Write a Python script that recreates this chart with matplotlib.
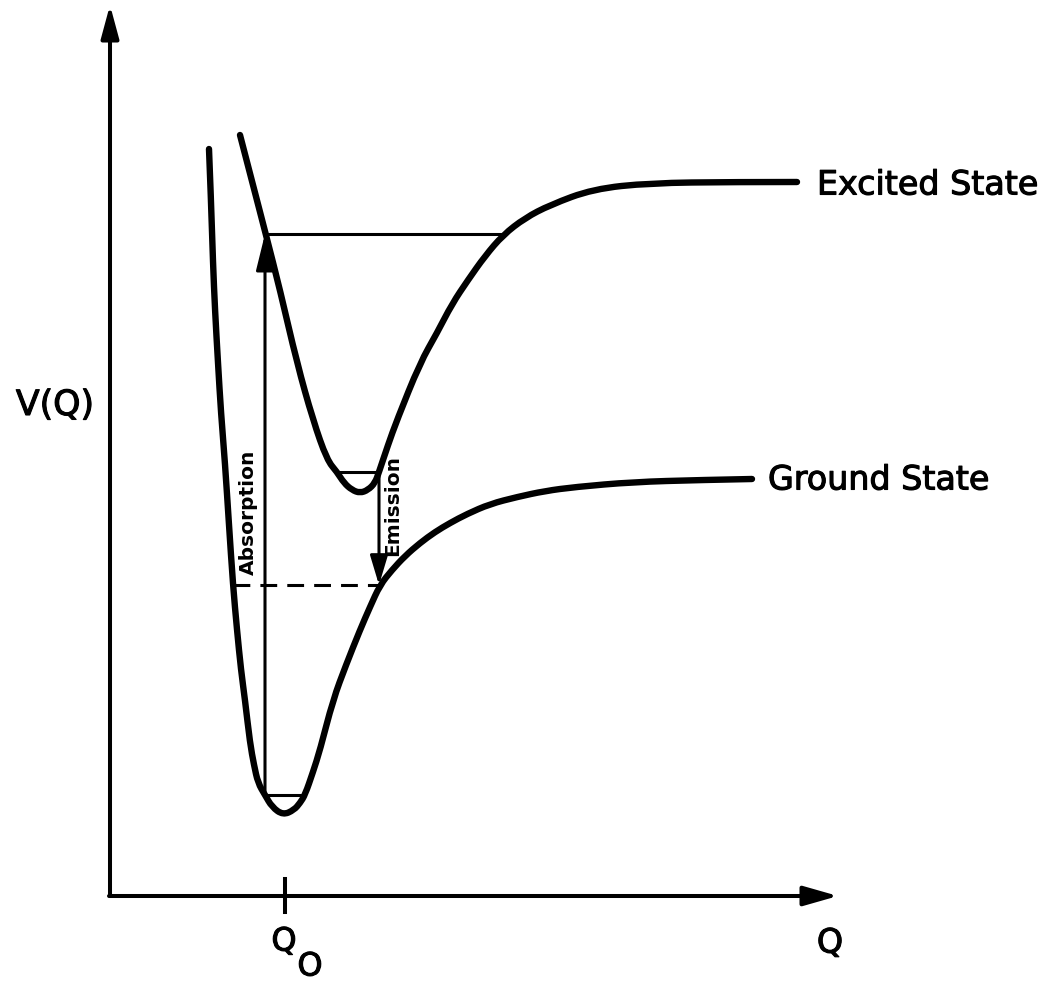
import matplotlib
matplotlib.use("Agg")
import matplotlib.pyplot as plt
from matplotlib.path import Path
from matplotlib.patches import PathPatch
import matplotlib.patheffects as pe

# ---------------------------------------------------------
# Data (Q = configuration coordinate, V = potential energy)
# ---------------------------------------------------------
ground_q = [99, 101, 103, 105, 108, 111, 115, 119, 123, 127, 131, 135, 140, 144,
            148, 155, 162, 173, 184, 190, 195, 203, 210, 223, 236, 250, 260, 270,
            282, 295, 310, 325, 340, 357, 380, 407, 435, 465, 523, 590, 642]
ground_v = [747, 696, 633, 586, 533, 483, 433, 371, 311, 266, 226, 196, 153, 131,
            113, 101, 89, 81, 86, 93, 101, 124, 146, 196, 231, 266, 289, 311,
            326, 340, 353, 364, 373, 382, 392, 399, 405, 409, 414, 416, 417]

excited_q = [130, 143, 156, 170, 187, 203, 217, 227, 234, 242, 250, 258, 265, 269,
             278, 287, 310, 327, 342, 358, 375, 393, 415, 440, 483, 540, 623, 687]
excited_v = [761, 711, 661, 606, 533, 476, 436, 424, 413, 406, 403, 406, 413, 424,
             451, 476, 533, 563, 592, 616, 640, 661, 678, 691, 707, 713, 714, 714]

q_zero = 175            # equilibrium position Q0
absorb_q = 155          # vertical absorption transition
absorb_v = (101, 662)   # from ground level up to excited curve
emit_q = 269            # vertical emission transition
emit_v = (424, 311)     # from excited level down to ground curve
ground_level = (101, 155, 195)    # v, q_left, q_right
excited_level = (424, 227, 269)
upper_line = (662, 155, 393)
dashed_line = (311, 123, 270)
axis_q_end = 728
axis_v_end = 891


def smooth_path(qs, vs):
    # quadratic bezier through the read points (points act as control points)
    pts = list(zip(qs, vs))
    verts = [pts[0]]
    codes = [Path.MOVETO]
    for i in range(1, len(pts) - 1):
        mid = ((pts[i][0] + pts[i + 1][0]) / 2, (pts[i][1] + pts[i + 1][1]) / 2)
        if i == len(pts) - 2:
            mid = pts[-1]
        verts += [pts[i], mid]
        codes += [Path.CURVE3, Path.CURVE3]
    return Path(verts, codes)


# ---------------------------------------------------------
# Figure
# ---------------------------------------------------------
fig = plt.figure(figsize=(10.63, 9.83), dpi=100)
ax = fig.add_axes([0, 0, 1, 1])
ax.set_xlim(-110, 953)
ax.set_ylim(-87, 896)
ax.axis("off")

# axes with arrows
ax.annotate("", xy=(0, axis_v_end), xytext=(0, 0),
            arrowprops=dict(arrowstyle="-|>,head_length=1.0,head_width=0.27",
                            mutation_scale=20, lw=2.9, color="black",
                            shrinkA=0, shrinkB=0))
ax.annotate("", xy=(axis_q_end, 0), xytext=(-1, 0),
            arrowprops=dict(arrowstyle="-|>,head_length=1.05,head_width=0.3",
                            mutation_scale=20, lw=2.9, color="black",
                            shrinkA=0, shrinkB=0))
ax.plot([q_zero, q_zero], [-16, 17], color="black", lw=2.9)

# potential curves
for qs, vs in ((ground_q, ground_v), (excited_q, excited_v)):
    ax.add_patch(PathPatch(smooth_path(qs, vs), facecolor="none",
                           edgecolor="black", lw=4.6, capstyle="round",
                           joinstyle="round"))

# vibrational levels and guide lines
for v, q0, q1 in (ground_level, excited_level, upper_line):
    ax.plot([q0, q1], [v, v], color="black", lw=2.2)
v, q0, q1 = dashed_line
ax.plot([q0, q1], [v, v], color="black", lw=2.2, linestyle=(0, (5.5, 3.3)))

# transitions
ax.annotate("", xy=(absorb_q, absorb_v[1]), xytext=(absorb_q, absorb_v[0]),
            arrowprops=dict(arrowstyle="-|>,head_length=1.1,head_width=0.27",
                            mutation_scale=20, lw=2.2, color="black",
                            shrinkA=0, shrinkB=0))
ax.annotate("", xy=(emit_q, emit_v[1]), xytext=(emit_q, emit_v[0]),
            arrowprops=dict(arrowstyle="-|>,head_length=0.9,head_width=0.27",
                            mutation_scale=20, lw=2.2, color="black",
                            shrinkA=0, shrinkB=0))

# labels
thick = [pe.withStroke(linewidth=0.8, foreground="black")]
ax.text(-55, 491, "V(Q)", fontsize=25, ha="center", va="center", path_effects=thick)
ax.text(707, 711, "Excited State", fontsize=24, ha="left", va="center",
        path_effects=thick)
ax.text(658, 416, "Ground State", fontsize=24, ha="left", va="center",
        path_effects=thick)
ax.text(138, 384, "Absorption", fontsize=14.5, fontweight="bold",
        rotation=90, ha="center", va="center")
ax.text(283, 390, "Emission", fontsize=14.5, fontweight="bold",
        rotation=90, ha="center", va="center")
ax.text(720, -47, "Q", fontsize=24, ha="center", va="center", path_effects=thick)
ax.text(174, -46, "Q", fontsize=23, ha="center", va="center", path_effects=thick)
ax.text(200, -71, "O", fontsize=23, ha="center", va="center", path_effects=thick)

fig.savefig("out.png", dpi=100)
